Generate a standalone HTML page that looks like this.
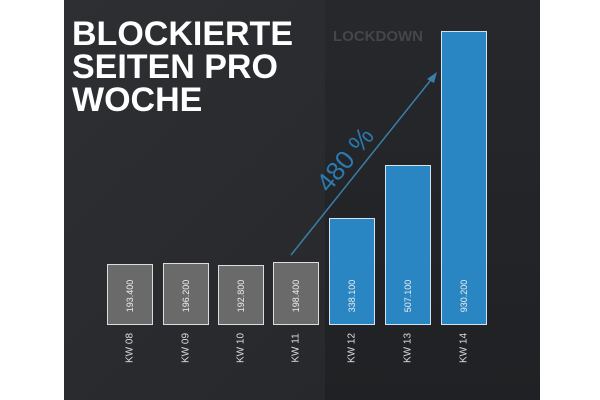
<!DOCTYPE html>
<html><head><meta charset="utf-8"><style>
body{margin:0;width:600px;height:400px;background:#fff;overflow:hidden;position:relative;font-family:"Liberation Sans",sans-serif}
.bg{position:absolute;left:64px;top:0;width:476px;height:400px;background:linear-gradient(135deg,#2d2f33,#24262a)}
.lk{position:absolute;left:325px;top:0;width:215px;height:400px;background:linear-gradient(180deg,#26282c,#1f2124)}
.t{position:absolute;left:72px;top:18px;color:#fff;font-weight:bold;font-size:34px;line-height:33px;letter-spacing:0}
.b{position:absolute;box-sizing:border-box;border:1.5px solid #ddd;background:#6a6a6a}
.b.bl{background:#2a86c2;border-color:#cfe3f0}
.v{position:absolute;transform:translate(-50%,-50%) rotate(-90deg);color:#eee;font-size:9px;white-space:nowrap}
.k{position:absolute;transform:translate(-50%,-50%) rotate(-90deg);color:#ddd;font-size:10px;white-space:nowrap;top:348px}
</style></head><body>
<div class="bg"></div><div class="lk"></div>
<div class="t">BLOCKIERTE<br>SEITEN PRO<br>WOCHE</div>
<div style="position:absolute;left:333px;top:28px;color:#43464b;font-weight:bold;font-size:15px">LOCKDOWN</div>
<div class="b" style="left:107px;top:264px;width:46px;height:61px"></div>
<div class="b" style="left:163px;top:263px;width:46px;height:62px"></div>
<div class="b" style="left:218px;top:265px;width:46px;height:60px"></div>
<div class="b" style="left:273px;top:262px;width:46px;height:63px"></div>
<div class="b bl" style="left:329px;top:218px;width:46px;height:107px"></div>
<div class="b bl" style="left:385px;top:165px;width:46px;height:160px"></div>
<div class="b bl" style="left:441px;top:31px;width:46px;height:294px"></div>
<div class="v" style="left:130px;top:296px">193.400</div>
<div class="v" style="left:186px;top:296px">196.200</div>
<div class="v" style="left:241px;top:296px">192.800</div>
<div class="v" style="left:296px;top:296px">198.400</div>
<div class="v" style="left:352px;top:296px">338.100</div>
<div class="v" style="left:408px;top:296px">507.100</div>
<div class="v" style="left:464px;top:296px">930.200</div>
<div class="k" style="left:130px">KW 08</div>
<div class="k" style="left:186px">KW 09</div>
<div class="k" style="left:241px">KW 10</div>
<div class="k" style="left:296px">KW 11</div>
<div class="k" style="left:352px">KW 12</div>
<div class="k" style="left:408px">KW 13</div>
<div class="k" style="left:464px">KW 14</div>
<svg width="600" height="400" style="position:absolute;left:0;top:0">
<line x1="291" y1="255" x2="434" y2="76" stroke="#3a7fa8" stroke-width="1.5"/>
<polygon points="437,72 427,79 434,83" fill="#3a7fa8"/>
<text x="352" y="165" font-family="Liberation Sans" font-size="26" fill="#2a7ab0" text-anchor="middle" transform="rotate(-51 352 165)">480 %</text>
</svg>
</body></html>
